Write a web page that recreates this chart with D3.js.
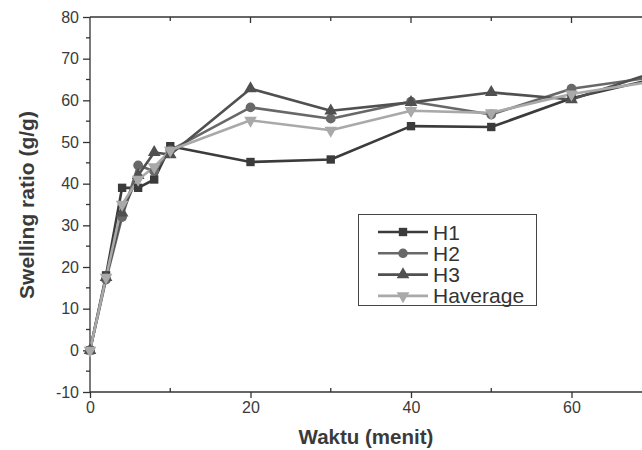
<!DOCTYPE html>
<html>
<head>
<meta charset="utf-8">
<script src="https://cdn.jsdelivr.net/npm/d3@7"></script>
<style>
  html, body { margin: 0; padding: 0; background: #fff; }
  svg { display: block; font-family: Arial, "Liberation Sans", sans-serif; }
</style>
</head>
<body>
<svg id="chart" width="642" height="450"></svg>
<script>
// time (menit)
const times = [0, 2, 4, 6, 8, 10, 20, 30, 40, 50, 60, 70];
const h1 = [0, 18, 39, 39, 41, 49, 45.2, 45.8, 53.8, 53.6, 60.5, 65];
const h2 = [0, 17, 32, 44.4, 43, 48, 58.3, 55.6, 59.7, 56.6, 62.8, 65.5];
const h3 = [0, 17.5, 33, 42, 47.5, 47, 62.8, 57.5, 59.5, 61.9, 60.2, 66.5];
const havg = [0, 17.5, 35, 41, 44, 48, 55.2, 52.8, 57.5, 57, 61.5, 64.5];
const seriesNames = ['H1', 'H2', 'H3', 'Haverage'];
const xTicks = [0, 20, 40, 60];
const yTicks = [-10, 0, 10, 20, 30, 40, 50, 60, 70, 80];

const STYLE = {
  H1: { color: '#3b3b3b', symbol: d3.symbolSquare, rot: 0 },
  H2: { color: '#686868', symbol: d3.symbolCircle, rot: 0 },
  H3: { color: '#505050', symbol: d3.symbolTriangle, rot: 0 },
  Haverage: { color: '#a9a9a9', symbol: d3.symbolTriangle, rot: 180 }
};

const series = [h1, h2, h3, havg].map((vals, i) => ({
  name: seriesNames[i],
  values: times.map((t, j) => ({ t, v: vals[j] }))
}));

const svg = d3.select('#chart');
const x = d3.scaleLinear().domain([0, 80]).range([90, 732]);
const y = d3.scaleLinear().domain([-10, 80]).range([392, 17]);

const ink = '#333';

// frame lines
svg.append('line').attr('x1', 90).attr('x2', 740).attr('y1', 17).attr('y2', 17)
  .attr('stroke', ink).attr('stroke-width', 1.3);
svg.append('line').attr('x1', 90).attr('x2', 740).attr('y1', 392).attr('y2', 392)
  .attr('stroke', ink).attr('stroke-width', 1.3);
svg.append('line').attr('x1', 90).attr('x2', 90).attr('y1', 17).attr('y2', 392)
  .attr('stroke', ink).attr('stroke-width', 1.3);

// bottom axis: major ticks outward, minor inward
const xAxis = svg.append('g').attr('transform', 'translate(0,392)')
  .call(d3.axisBottom(x).tickValues(xTicks).tickSize(6).tickPadding(4).tickFormat(d => String(d)));
xAxis.select('.domain').remove();
xAxis.selectAll('line').attr('stroke', ink).attr('stroke-width', 1.3);
xAxis.selectAll('text').attr('font-size', 16).attr('fill', '#3a3a3a');
svg.append('g').selectAll('line').data([10, 30, 50, 70]).enter().append('line')
  .attr('x1', d => x(d)).attr('x2', d => x(d)).attr('y1', 392).attr('y2', 388)
  .attr('stroke', ink).attr('stroke-width', 1.3);

// top ticks, inward
svg.append('g').selectAll('line').data([10, 20, 30, 40, 50, 60, 70]).enter().append('line')
  .attr('x1', d => x(d)).attr('x2', d => x(d)).attr('y1', 17)
  .attr('y2', d => d % 20 === 0 ? 23 : 21)
  .attr('stroke', ink).attr('stroke-width', 1.3);

// left axis
const yAxis = svg.append('g').attr('transform', 'translate(90,0)')
  .call(d3.axisLeft(y).tickValues(yTicks).tickSize(7).tickPadding(4).tickFormat(d => String(d)));
yAxis.select('.domain').remove();
yAxis.selectAll('line').attr('stroke', ink).attr('stroke-width', 1.3);
yAxis.selectAll('text').attr('font-size', 16).attr('fill', '#3a3a3a');
svg.append('g').selectAll('line').data(d3.range(-5, 80, 10)).enter().append('line')
  .attr('x1', 86).attr('x2', 90).attr('y1', d => y(d)).attr('y2', d => y(d))
  .attr('stroke', ink).attr('stroke-width', 1.3);

// axis titles
svg.append('text').attr('x', 366).attr('y', 444).attr('text-anchor', 'middle')
  .attr('font-size', 20.5).attr('font-weight', 'bold').attr('fill', '#3a3a3a')
  .text('Waktu (menit)');
svg.append('text').attr('transform', 'translate(34,205) rotate(-90)')
  .attr('text-anchor', 'middle').attr('font-size', 21).attr('font-weight', 'bold')
  .attr('fill', '#3a3a3a').text('Swelling ratio (g/g)');

// lines and markers
const line = d3.line().x(d => x(d.t)).y(d => y(d.v));
const plot = svg.append('g');
series.forEach(s => {
  const st = STYLE[s.name];
  plot.append('path').datum(s.values)
    .attr('fill', 'none').attr('stroke', st.color).attr('stroke-width', 2.6)
    .attr('stroke-linejoin', 'round').attr('d', line);
});
series.forEach(s => {
  const st = STYLE[s.name];
  plot.selectAll(null).data(s.values).enter().append('path')
    .attr('d', d3.symbol().type(st.symbol).size(st.symbol === d3.symbolCircle ? 75 : 70))
    .attr('transform', d => `translate(${x(d.t)},${y(d.v)}) rotate(${st.rot})`)
    .attr('fill', st.color);
});

// legend
const lg = svg.append('g');
lg.append('rect').attr('x', 358.5).attr('y', 214.5).attr('width', 178).attr('height', 91)
  .attr('fill', '#fff').attr('stroke', '#444').attr('stroke-width', 1);
seriesNames.forEach((name, i) => {
  const st = STYLE[name];
  const yy = 232 + i * 21.3;
  lg.append('line').attr('x1', 378).attr('x2', 428).attr('y1', yy).attr('y2', yy)
    .attr('stroke', st.color).attr('stroke-width', 2.6);
  lg.append('path')
    .attr('d', d3.symbol().type(st.symbol).size(70))
    .attr('transform', `translate(403,${yy}) rotate(${st.rot})`)
    .attr('fill', st.color);
  lg.append('text').attr('x', 433).attr('y', yy + 7.5).attr('font-size', 21)
    .attr('fill', '#333').text(name);
});
</script>
</body>
</html>
